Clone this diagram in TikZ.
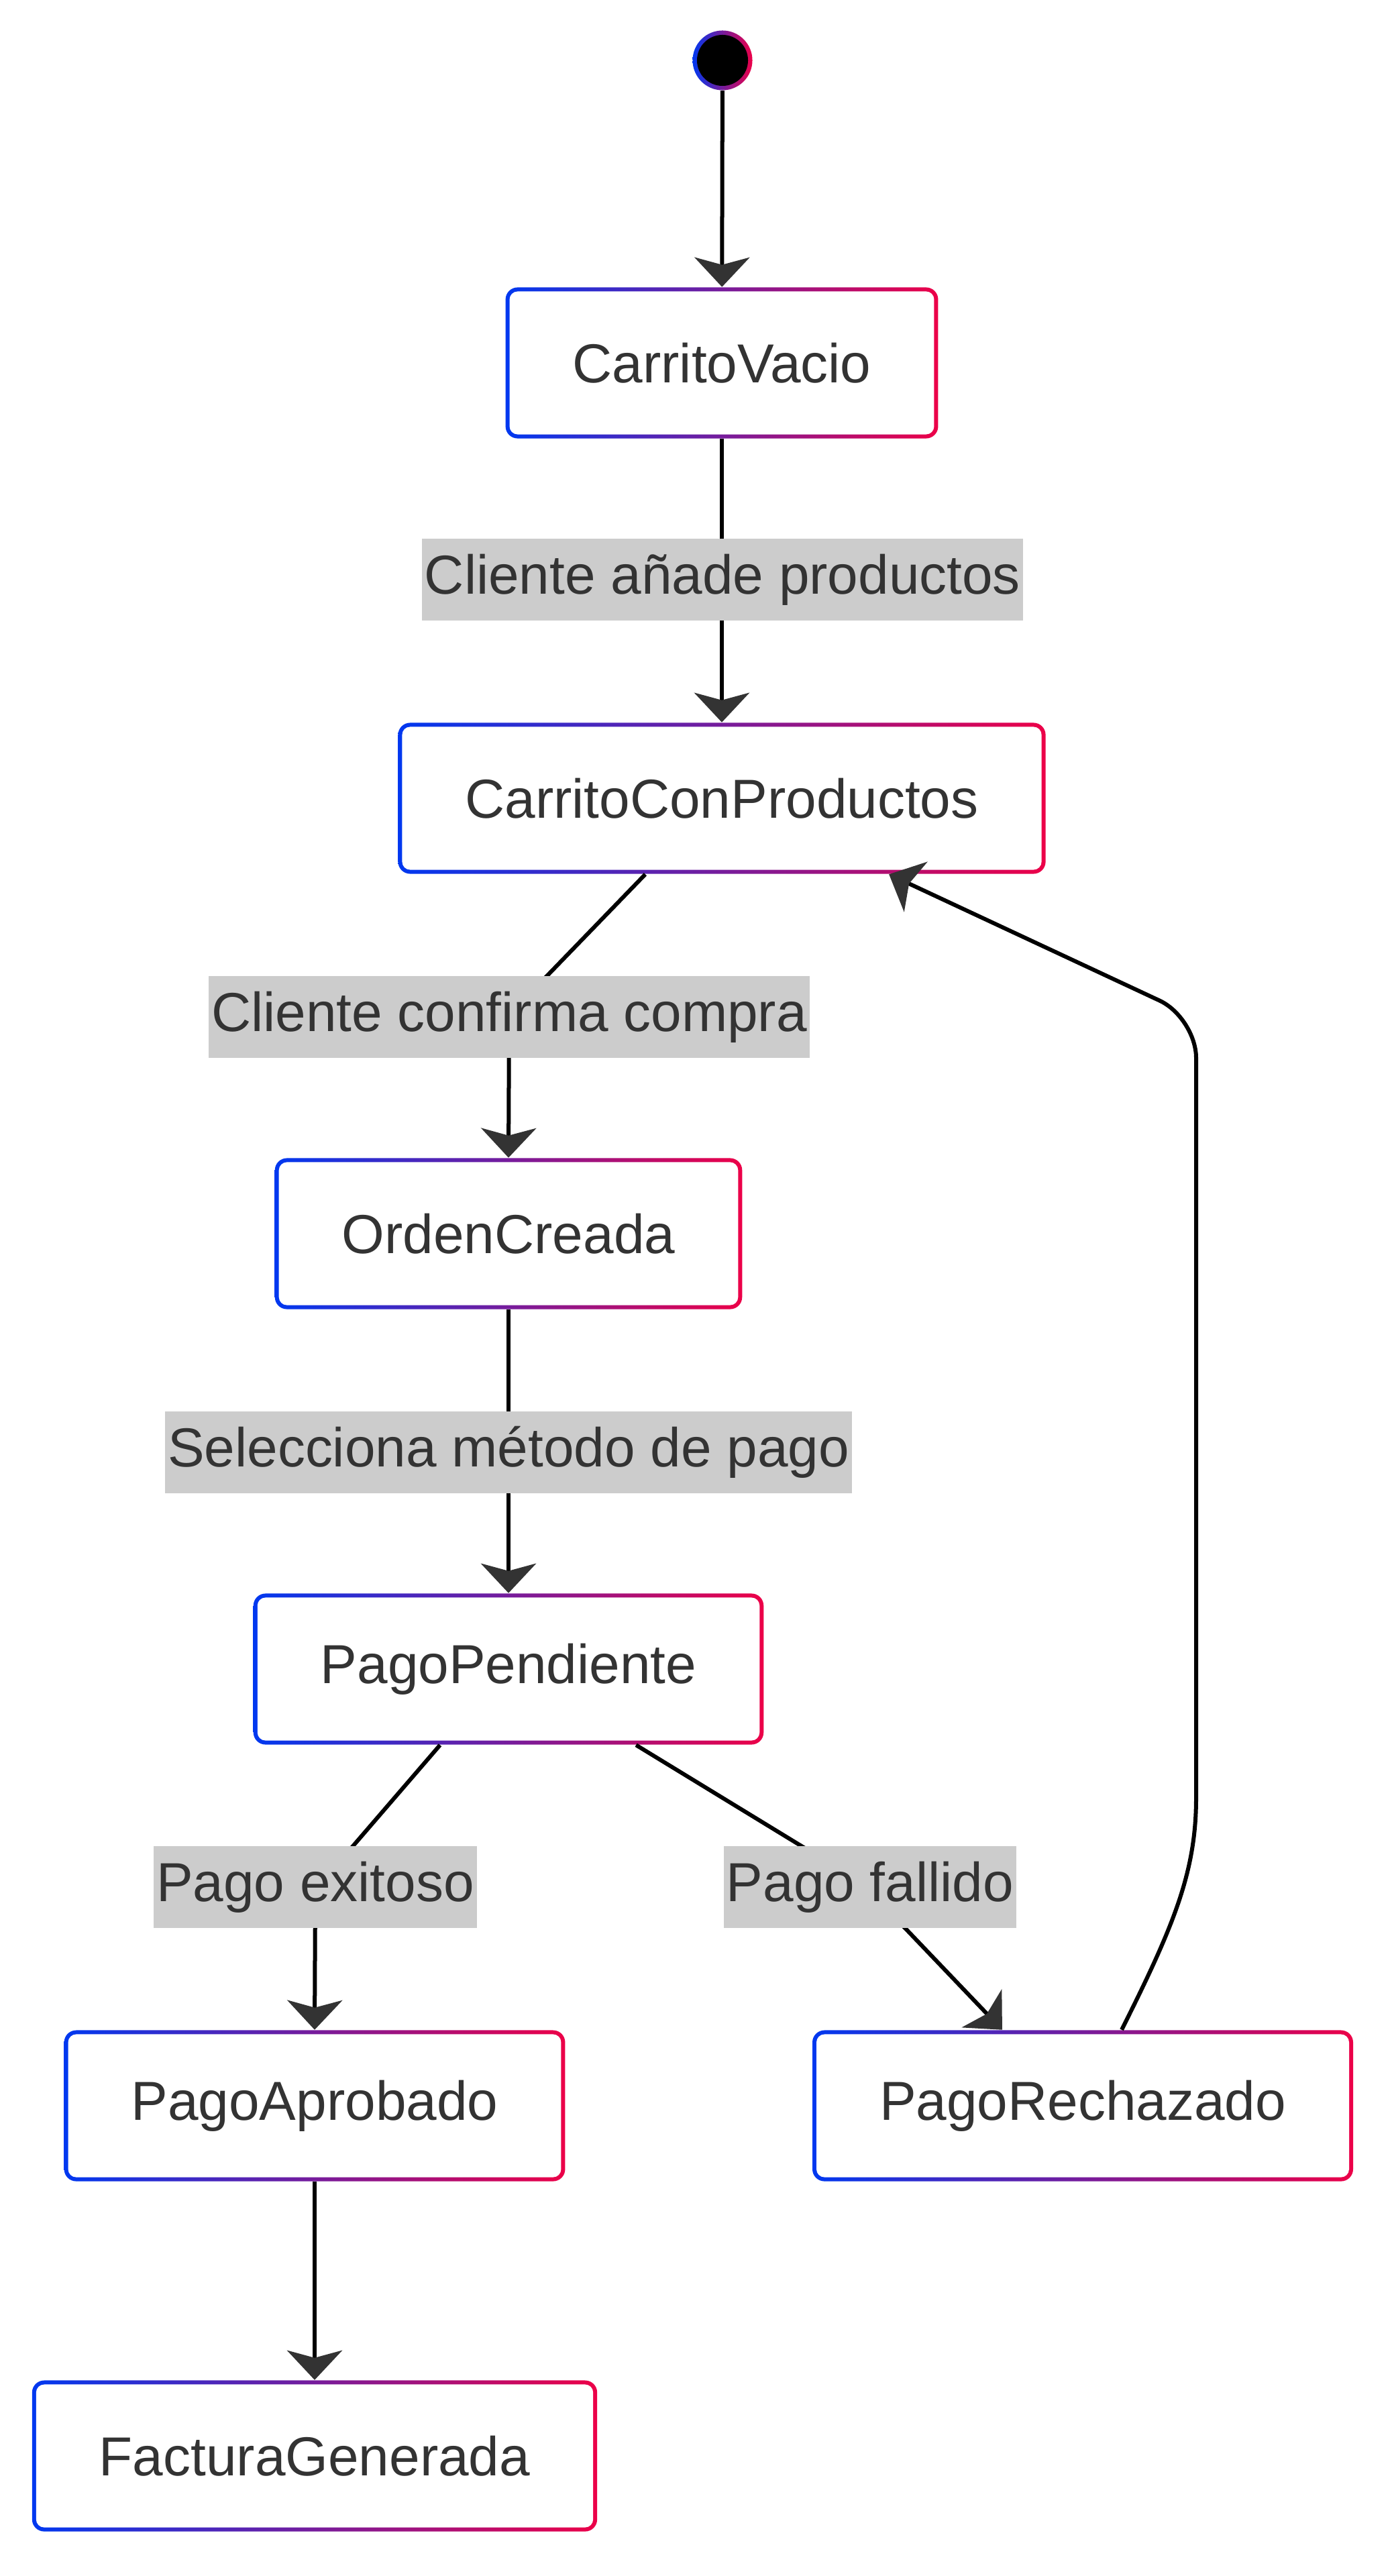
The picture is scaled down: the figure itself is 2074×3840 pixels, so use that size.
\documentclass[tikz,border=0pt]{standalone}
\usepackage{fontspec}
\setmainfont{Liberation Sans}
\usetikzlibrary{arrows.meta}
\definecolor{edgeblue}{RGB}{0,56,240}
\definecolor{edgered}{RGB}{236,0,72}
\definecolor{textgray}{RGB}{51,51,51}
\newcommand\statefont{\fontsize{23.3pt}{28pt}\selectfont}
\begin{document}
\begin{tikzpicture}[x=0.01cm,y=-0.01cm,
  statebox/.style={rectangle,rounded corners=0.18cm,left color=edgeblue,right color=edgered,
    minimum height=2.25cm,inner xsep=1cm,text=textgray,font=\statefont,
    path picture={\fill[white,rounded corners=0.12cm]
      ([shift={(0.06cm,0.06cm)}]path picture bounding box.south west) rectangle
      ([shift={(-0.06cm,-0.06cm)}]path picture bounding box.north east);}},
  startdot/.style={circle,minimum size=0.89cm,inner sep=0pt,left color=edgeblue,right color=edgered,
    path picture={\fill[black] (path picture bounding box.center) circle (0.38cm);}},
  edgelabel/.style={fill=gray!40,text=textgray,font=\statefont,minimum height=1.22cm,inner xsep=0.04cm,inner ysep=0pt},
  flow/.style={line width=0.06cm,-{Stealth[length=0.44cm,width=0.82cm,inset=0.11cm,color=textgray]}}]
\useasboundingbox (0,0) rectangle (2074,3840);
\node[startdot] (start) at (1077,90) {};
\node[statebox] (vacio) at (1076,541) {CarritoVacio};
\node[statebox] (conprod) at (1076,1190) {CarritoConProductos};
\node[statebox] (orden) at (758,1839) {OrdenCreada};
\node[statebox] (pendiente) at (758,2488) {PagoPendiente};
\node[statebox] (aprobado) at (469,3139) {PagoAprobado};
\node[statebox] (rechazado) at (1614,3139) {PagoRechazado};
\node[statebox] (factura) at (469,3661) {FacturaGenerada};
\draw[flow] (start) -- (vacio);
\draw[flow] (vacio) -- (conprod);
\draw[flow,rounded corners=0.6cm] ([xshift=-1.14cm]conprod.south) -- (759,1513) -- (orden.north);
\draw[flow] (orden) -- (pendiente);
\draw[flow,rounded corners=0.6cm] ([xshift=-1.02cm]pendiente.south) -- (470,2817) -- (aprobado.north);
\draw[flow,rounded corners=1cm] ([xshift=1.9cm]pendiente.south) -- (1285,2807) -- ([xshift=-1.2cm]rechazado.north);
\draw[flow] (aprobado) -- (factura);
\draw[flow] ([xshift=0.58cm]rechazado.north) .. controls (1750,2870) and (1783,2790) .. (1783,2680)
  [rounded corners=0.6cm] -- (1783,1517) -- ([xshift=2.49cm]conprod.south);
\node[edgelabel] (lbl1) at (1077,864) {Cliente añade productos};
\node[edgelabel] (lbl2) at (759,1516) {Cliente confirma compra};
\node[edgelabel] (lbl3) at (758,2165) {Selecciona método de pago};
\node[edgelabel] (lbl4) at (470,2813) {Pago exitoso};
\node[edgelabel] (lbl5) at (1297,2813) {Pago fallido};
\end{tikzpicture}
\end{document}
